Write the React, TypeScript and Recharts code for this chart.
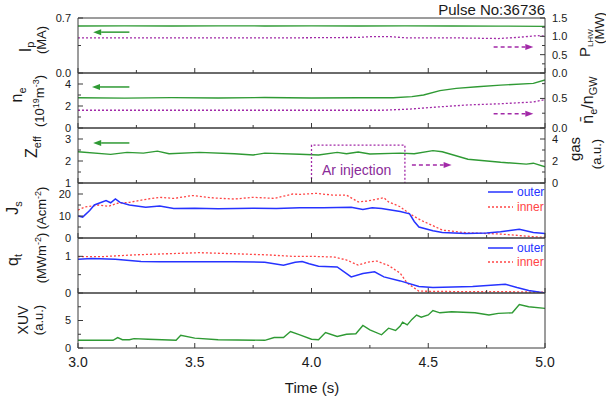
import React from 'react';
import { LineChart, Line, XAxis, YAxis, ReferenceLine } from 'recharts';

const W = 606;
const X0 = 78;
const X1 = 545;
const PH = 55;
const PAD = 12;

const GREEN = '#2f9a34';
const PURPLE = '#a22aa8';
const BLUE = '#2633ff';
const RED = '#ff4545';
const AXIS = '#3a3a3a';
const TXT = '#1a1a1a';
const FONT = '"Liberation Sans", Arial, sans-serif';

// time axis
const xMajor = [3.0, 3.5, 4.0, 4.5, 5.0];
const xTicks = [3.0, 3.25, 3.5, 3.75, 4.0, 4.25, 4.5, 4.75, 5.0];

// panel 1: plasma current (MA) and LHW power (MW)
const ipData = [[3.0, 0.598], [3.2, 0.6], [3.4, 0.598], [3.6, 0.6], [3.8, 0.599], [4.0, 0.6], [4.2, 0.598], [4.4, 0.6], [4.6, 0.599], [4.8, 0.597], [5.0, 0.594]];
const plhwData = [[3.0, 0.96], [3.5, 0.96], [3.95, 0.96], [4.2, 0.97], [4.25, 0.99], [4.34, 0.99], [4.4, 0.96], [4.6, 0.96], [4.7, 0.95], [4.8, 0.94], [4.88, 0.97], [4.97, 1.02], [5.0, 1.0]];

// panel 2: density (1e19 m^-3) and Greenwald fraction
const neData = [[3.0, 2.75], [3.2, 2.72], [3.4, 2.76], [3.6, 2.73], [3.8, 2.77], [4.0, 2.73], [4.2, 2.75], [4.35, 2.75], [4.43, 2.85], [4.48, 3.0], [4.55, 3.4], [4.62, 3.6], [4.71, 3.75], [4.81, 3.9], [4.95, 4.06], [5.0, 4.36]];
const fgwData = [[3.0, 0.3], [3.5, 0.3], [4.0, 0.3], [4.3, 0.3], [4.42, 0.32], [4.52, 0.35], [4.67, 0.39], [4.81, 0.41], [4.95, 0.44], [5.0, 0.48]];

// panel 3: Zeff and Ar gas puff
const zeffData = [[3.0, 2.42], [3.14, 2.3], [3.21, 2.39], [3.28, 2.36], [3.34, 2.45], [3.39, 2.33], [3.52, 2.39], [3.67, 2.33], [3.75, 2.27], [3.8, 2.36], [3.95, 2.31], [4.03, 2.27], [4.11, 2.39], [4.15, 2.33], [4.2, 2.41], [4.25, 2.32], [4.38, 2.36], [4.44, 2.33], [4.52, 2.47], [4.56, 2.42], [4.67, 2.08], [4.81, 1.94], [4.92, 1.86], [4.95, 1.9], [5.0, 1.74]];
const gasData = [[4.0, 0], [4.0, 3.45], [4.4, 3.45], [4.4, 0]];

// panel 4: ion saturation current density (A cm^-2)
const jsOuter = [[3.0, 10], [3.02, 9.5], [3.05, 12.5], [3.07, 15], [3.12, 17], [3.14, 16], [3.16, 17.8], [3.18, 16.2], [3.22, 15], [3.29, 14], [3.35, 14.5], [3.41, 13.4], [3.5, 13.5], [3.6, 13.3], [3.75, 13.5], [3.85, 13.4], [3.95, 13.8], [4.05, 13.7], [4.17, 14], [4.22, 13], [4.26, 13.8], [4.3, 13.4], [4.38, 12], [4.42, 11], [4.44, 7.5], [4.46, 5], [4.52, 3.3], [4.56, 2.5], [4.66, 2.0], [4.75, 2.3], [4.81, 2.8], [4.89, 4.0], [4.95, 2.5], [5.0, 2.0]];
const jsInner = [[3.0, 12.7], [3.03, 14.1], [3.09, 15], [3.13, 14.4], [3.17, 15.8], [3.22, 16.2], [3.28, 17.4], [3.35, 18.5], [3.41, 18], [3.49, 19.3], [3.58, 18.2], [3.67, 17.7], [3.75, 18.5], [3.84, 18], [3.92, 20], [3.95, 19.8], [4.02, 20.3], [4.09, 19.5], [4.15, 19.5], [4.2, 16.4], [4.24, 16.8], [4.31, 18.3], [4.33, 16.4], [4.38, 14.2], [4.42, 11], [4.47, 8], [4.52, 5.6], [4.56, 3.6], [4.66, 2.4], [4.81, 1.8], [4.95, 0.6], [5.0, 0.3]];

// panel 5: heat flux (MW m^-2)
const qtOuter = [[3.0, 0.92], [3.06, 0.94], [3.16, 0.92], [3.27, 0.86], [3.35, 0.85], [3.5, 0.85], [3.67, 0.85], [3.8, 0.84], [3.88, 0.76], [3.93, 0.84], [3.96, 0.86], [3.99, 0.8], [4.03, 0.73], [4.11, 0.71], [4.17, 0.44], [4.22, 0.53], [4.27, 0.58], [4.31, 0.44], [4.38, 0.33], [4.46, 0.18], [4.52, 0.15], [4.69, 0.18], [4.83, 0.24], [4.88, 0.15], [4.93, 0.07], [5.0, 0.0]];
const qtInner = [[3.0, 0.99], [3.1, 0.99], [3.24, 1.04], [3.38, 1.07], [3.52, 1.1], [3.67, 1.07], [3.81, 1.04], [3.92, 1.0], [4.0, 1.0], [4.1, 0.98], [4.15, 0.9], [4.2, 0.76], [4.24, 0.84], [4.28, 0.87], [4.33, 0.75], [4.38, 0.54], [4.41, 0.27], [4.46, 0.05], [4.6, 0.04], [4.8, 0.04], [5.0, 0.02]];

// panel 6: XUV (a.u.)
const xuvData = [[3.0, 1.4], [3.15, 1.4], [3.17, 1.9], [3.19, 1.5], [3.22, 1.5], [3.24, 1.7], [3.3, 1.6], [3.42, 1.4], [3.44, 2.3], [3.5, 1.8], [3.6, 1.5], [3.8, 1.4], [3.84, 1.9], [3.88, 1.9], [3.91, 3.0], [3.95, 2.4], [4.0, 1.6], [4.03, 1.5], [4.06, 2.8], [4.11, 2.1], [4.15, 2.5], [4.19, 2.6], [4.22, 4.1], [4.25, 3.3], [4.3, 2.4], [4.33, 3.6], [4.36, 3.2], [4.38, 4.0], [4.39, 4.7], [4.41, 4.2], [4.43, 5.2], [4.45, 6.0], [4.47, 5.6], [4.5, 6.0], [4.52, 6.8], [4.55, 6.4], [4.6, 6.6], [4.65, 6.5], [4.7, 6.4], [4.76, 6.0], [4.8, 6.3], [4.86, 6.4], [4.89, 7.9], [4.93, 7.5], [5.0, 7.2]];

const pts = (a: number[][]) => a.map(([t, v]) => ({ t, v }));
const near = (a: number[], v: number) => a.some((b) => Math.abs(b - v) < 1e-6);

// ticks point inward (Origin style), majors labelled
const yTick = (side: 'left' | 'right', labeled: number[], digits: number) => (p: any) => {
  const v = p.payload.value;
  const major = near(labeled, v);
  const dir = side === 'left' ? 1 : -1;
  return (
    <g>
      <line x1={p.x} x2={p.x + dir * (major ? 5 : 3)} y1={p.y} y2={p.y} stroke={AXIS} />
      {major && (
        <text x={p.x - dir * 7} y={p.y} dy="0.36em" textAnchor={side === 'left' ? 'end' : 'start'}
          fontSize={11} fontFamily={FONT} fill={TXT}>{v.toFixed(digits)}</text>
      )}
    </g>
  );
};

const xTick = (labels: boolean) => (p: any) => {
  const v = p.payload.value;
  const major = near(xMajor, v);
  return (
    <g>
      <line x1={p.x} x2={p.x} y1={p.y} y2={p.y - (major ? 5 : 3)} stroke={AXIS} />
      {labels && major && (
        <text x={p.x} y={p.y + 19} textAnchor="middle" fontSize={14} fontFamily={FONT} fill={TXT}>{v.toFixed(1)}</text>
      )}
    </g>
  );
};

const arrow = (color: string, dash?: string) => (p: any) => {
  const { x1, y1, x2, y2 } = p;
  const a = Math.atan2(y2 - y1, x2 - x1);
  const L = 8;
  const hw = 3;
  const bx = x2 - L * Math.cos(a);
  const by = y2 - L * Math.sin(a);
  const head = `${x2},${y2} ${bx - hw * Math.sin(a)},${by + hw * Math.cos(a)} ${bx + hw * Math.sin(a)},${by - hw * Math.cos(a)}`;
  return (
    <g>
      <line x1={x1} y1={y1} x2={bx} y2={by} stroke={color} strokeWidth={1.5} strokeDasharray={dash} />
      <polygon points={head} fill={color} />
    </g>
  );
};

// axes are 1px thick so recharts still draws them; margins make up the rest
function Panel({ top, left, right, bottom, children }: any) {
  const padB = bottom ? 40 : PAD;
  return (
    <div style={{ position: 'absolute', left: 0, top: top - PAD }}>
      <LineChart width={W} height={PH + PAD + padB}
        margin={{ top: PAD - 1, bottom: padB - 1, left: X0 - 1, right: W - X1 - 1 }}>
        <XAxis xAxisId={0} type="number" dataKey="t" domain={[3, 5]} allowDataOverflow ticks={xTicks} interval={0}
          height={1} tickSize={0} tickMargin={0} tickLine={false} axisLine={{ stroke: AXIS }} tick={xTick(!!bottom)} />
        <XAxis xAxisId="top" orientation="top" type="number" domain={[3, 5]} height={1} tick={false}
          tickLine={false} axisLine={{ stroke: AXIS }} />
        <YAxis yAxisId={0} type="number" domain={left.domain} allowDataOverflow ticks={left.ticks} interval={0}
          width={1} tickSize={0} tickMargin={0} tickLine={false} axisLine={{ stroke: AXIS }}
          tick={yTick('left', left.labeled, left.digits)} />
        {right ? (
          <YAxis yAxisId="r" orientation="right" type="number" domain={right.domain} allowDataOverflow ticks={right.ticks}
            interval={0} width={1} tickSize={0} tickMargin={0} tickLine={false} axisLine={{ stroke: AXIS }}
            tick={yTick('right', right.labeled, right.digits)} />
        ) : (
          <YAxis yAxisId="r" orientation="right" width={1} tick={false} tickLine={false} axisLine={{ stroke: AXIS }} />
        )}
        {children}
      </LineChart>
    </div>
  );
}

const line = (data: number[][], color: string, opts: any = {}) => (
  <Line data={pts(data)} dataKey="v" xAxisId={0} yAxisId={opts.axis ?? 0} type="linear" stroke={color}
    strokeWidth={opts.width ?? 1.4} strokeDasharray={opts.dash} dot={false} activeDot={false} isAnimationActive={false} />
);

const VText = ({ x, y, size = 14, children }: any) => (
  <text transform={`translate(${x},${y}) rotate(-90)`} textAnchor="middle" fontSize={size} fontFamily={FONT} fill={TXT}>
    {children}
  </text>
);

function Overlay() {
  const legend = (y: number, label: string, color: string, dash?: string) => (
    <g>
      <line x1={488} x2={513} y1={y} y2={y} stroke={color} strokeWidth={1.5} strokeDasharray={dash} />
      <text x={517} y={y} dy="0.36em" fontSize={12} fontFamily={FONT} fill={color}>{label}</text>
    </g>
  );
  return (
    <svg width={W} height={403} style={{ position: 'absolute', left: 0, top: 0, pointerEvents: 'none' }}>
      <text x={545} y={15} textAnchor="end" fontSize={15} fontFamily={FONT} fill={TXT}>Pulse No:36736</text>
      <text x={312} y={393} textAnchor="middle" fontSize={15} fontFamily={FONT} fill={TXT}>Time (s)</text>
      <text x={322} y={175} fontSize={14} fontFamily={FONT} fill="#8a2a98">Ar injection</text>

      <VText x={31} y={47} size={16}>I<tspan dy={3} fontSize={11}>p</tspan></VText>
      <VText x={46} y={40} size={13}>(MA)</VText>
      <VText x={22} y={95} size={16}>n<tspan dy={4} fontSize={11}>e</tspan></VText>
      <VText x={44} y={101} size={13}>
        (10<tspan dy={-5} fontSize={9}>19</tspan><tspan dy={5}>m</tspan><tspan dy={-5} fontSize={9}>-3</tspan><tspan dy={5}>)</tspan>
      </VText>
      <VText x={37} y={147} size={16}>Z<tspan dy={4} fontSize={11}>eff</tspan></VText>
      <VText x={18} y={208} size={16}>J<tspan dy={4} fontSize={11}>s</tspan></VText>
      <VText x={46} y={208} size={13}>(Acm<tspan dy={-5} fontSize={9}>-2</tspan><tspan dy={5}>)</tspan></VText>
      <VText x={18} y={260} size={16}>q<tspan dy={4} fontSize={11}>t</tspan></VText>
      <VText x={46} y={258} size={13}>(MWm<tspan dy={-5} fontSize={9}>-2</tspan><tspan dy={5}>)</tspan></VText>
      <VText x={28} y={320} size={14}>XUV</VText>
      <VText x={43} y={320} size={13}>(a.u.)</VText>

      <VText x={590} y={43} size={15}>P<tspan dy={3} fontSize={8}>LHW</tspan></VText>
      <VText x={604} y={28} size={13}>(MW)</VText>
      <VText x={593} y={100} size={16}>
        n̄<tspan dy={4} fontSize={11}>e</tspan><tspan dy={-4}>/n</tspan><tspan dy={4} fontSize={11}>GW</tspan>
      </VText>
      <VText x={580} y={149} size={15}>gas</VText>
      <VText x={601} y={154} size={13}>(a.u.)</VText>

      {legend(192, 'outer', BLUE)}
      {legend(207, 'inner', RED, '2 2')}
      {legend(248, 'outer', BLUE)}
      {legend(262, 'inner', RED, '2 2')}
    </svg>
  );
}

export default function App() {
  return (
    <div style={{ position: 'absolute', left: 0, top: 0, width: W, height: 403, background: '#fff', overflow: 'hidden' }}>
      <Panel top={18}
        left={{ domain: [0, 0.7], ticks: [0, 0.35, 0.7], labeled: [0, 0.7], digits: 1 }}
        right={{ domain: [0, 1.5], ticks: [0, 0.25, 0.5, 0.75, 1.0, 1.25, 1.5], labeled: [0, 0.5, 1.0, 1.5], digits: 1 }}>
        {line(ipData, GREEN)}
        {line(plhwData, PURPLE, { axis: 'r', dash: '2 2', width: 1.3 })}
        <ReferenceLine xAxisId={0} yAxisId={0} segment={[{ x: 3.22, y: 0.52 }, { x: 3.065, y: 0.52 }]} shape={arrow(GREEN)} />
        <ReferenceLine xAxisId={0} yAxisId="r" segment={[{ x: 4.78, y: 0.71 }, { x: 4.95, y: 0.71 }]} shape={arrow(PURPLE, '4 3')} />
      </Panel>
      <Panel top={73}
        left={{ domain: [0, 5], ticks: [0, 1, 2, 3, 4], labeled: [0, 2, 4], digits: 0 }}
        right={{ domain: [0, 0.93], ticks: [0, 0.25, 0.5, 0.75], labeled: [0, 0.5], digits: 1 }}>
        {line(neData, GREEN)}
        {line(fgwData, PURPLE, { axis: 'r', dash: '2 2', width: 1.3 })}
        <ReferenceLine xAxisId={0} yAxisId={0} segment={[{ x: 3.22, y: 3.73 }, { x: 3.06, y: 3.73 }]} shape={arrow(GREEN)} />
        <ReferenceLine xAxisId={0} yAxisId="r" segment={[{ x: 4.78, y: 0.24 }, { x: 4.95, y: 0.24 }]} shape={arrow(PURPLE, '4 3')} />
      </Panel>
      <Panel top={128}
        left={{ domain: [1, 3.5], ticks: [1, 1.5, 2, 2.5, 3], labeled: [1, 2, 3], digits: 0 }}
        right={{ domain: [0, 5], ticks: [0, 1, 2, 3, 4], labeled: [0, 2, 4], digits: 0 }}>
        {line(zeffData, GREEN)}
        {line(gasData, PURPLE, { axis: 'r', dash: '2 2', width: 1.3 })}
        <ReferenceLine xAxisId={0} yAxisId={0} segment={[{ x: 3.22, y: 2.82 }, { x: 3.065, y: 2.82 }]} shape={arrow(GREEN)} />
        <ReferenceLine xAxisId={0} yAxisId="r" segment={[{ x: 4.43, y: 1.64 }, { x: 4.6, y: 1.64 }]} shape={arrow(PURPLE, '4 3')} />
      </Panel>
      <Panel top={183} left={{ domain: [0, 25], ticks: [0, 5, 10, 15, 20], labeled: [0, 10, 20], digits: 0 }}>
        {line(jsInner, RED, { dash: '2 2', width: 1.3 })}
        {line(jsOuter, BLUE, { width: 1.5 })}
      </Panel>
      <Panel top={238} left={{ domain: [0, 1.5], ticks: [0, 0.5, 1], labeled: [0, 1], digits: 0 }}>
        {line(qtInner, RED, { dash: '2 2', width: 1.3 })}
        {line(qtOuter, BLUE, { width: 1.5 })}
      </Panel>
      <Panel top={293} bottom left={{ domain: [0, 10], ticks: [0, 2.5, 5, 7.5], labeled: [0, 5], digits: 0 }}>
        {line(xuvData, GREEN)}
      </Panel>
      <Overlay />
    </div>
  );
}
